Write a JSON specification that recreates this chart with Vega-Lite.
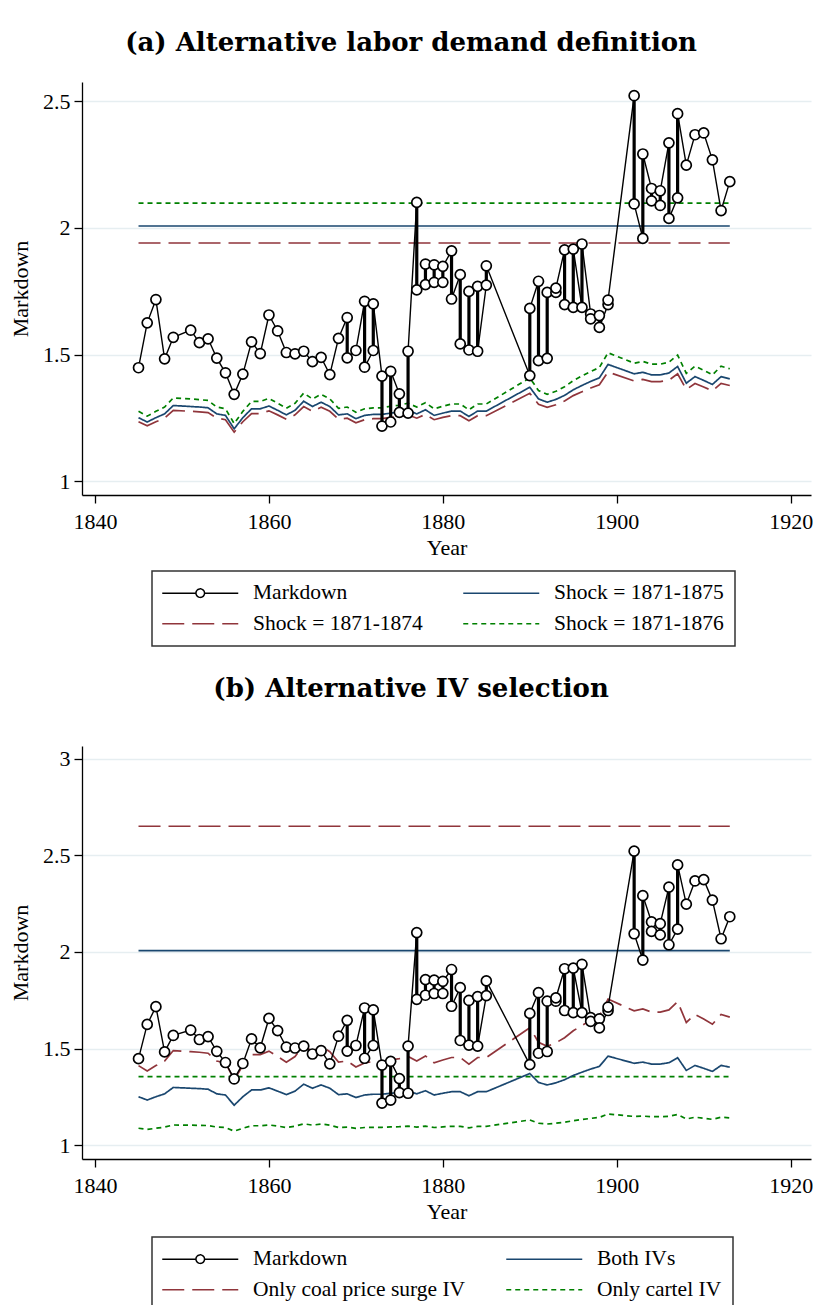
{
 "$schema": "https://vega.github.io/schema/vega-lite/v6.json",
 "autosize": {"type": "pad"},
 "padding": {"left": 9, "top": 30, "right": 0, "bottom": 0},
 "background": "white",
 "spacing": 29,
 "datasets": {
  "md": [
   {"i":1,"year":1845,"v":1.448,"s":"Markdown"},{"i":2,"year":1846,"v":1.625,"s":"Markdown"},{"i":3,"year":1847,"v":1.717,"s":"Markdown"},{"i":4,"year":1848,"v":1.483,"s":"Markdown"},{"i":5,"year":1849,"v":1.568,"s":"Markdown"},
   {"i":6,"year":1851,"v":1.596,"s":"Markdown"},{"i":7,"year":1852,"v":1.547,"s":"Markdown"},{"i":8,"year":1853,"v":1.562,"s":"Markdown"},{"i":9,"year":1854,"v":1.486,"s":"Markdown"},{"i":10,"year":1855,"v":1.428,"s":"Markdown"},
   {"i":11,"year":1856,"v":1.343,"s":"Markdown"},{"i":12,"year":1857,"v":1.423,"s":"Markdown"},{"i":13,"year":1858,"v":1.550,"s":"Markdown"},{"i":14,"year":1859,"v":1.504,"s":"Markdown"},{"i":15,"year":1860,"v":1.656,"s":"Markdown"},
   {"i":16,"year":1861,"v":1.593,"s":"Markdown"},{"i":17,"year":1862,"v":1.508,"s":"Markdown"},{"i":18,"year":1863,"v":1.503,"s":"Markdown"},{"i":19,"year":1864,"v":1.513,"s":"Markdown"},{"i":20,"year":1865,"v":1.472,"s":"Markdown"},
   {"i":21,"year":1866,"v":1.489,"s":"Markdown"},{"i":22,"year":1867,"v":1.421,"s":"Markdown"},{"i":23,"year":1868,"v":1.564,"s":"Markdown"},{"i":24,"year":1869,"v":1.646,"s":"Markdown"},{"i":25,"year":1869,"v":1.487,"s":"Markdown"},
   {"i":26,"year":1870,"v":1.516,"s":"Markdown"},{"i":27,"year":1871,"v":1.710,"s":"Markdown"},{"i":28,"year":1871,"v":1.450,"s":"Markdown"},{"i":29,"year":1872,"v":1.516,"s":"Markdown"},{"i":30,"year":1872,"v":1.700,"s":"Markdown"},
   {"i":31,"year":1873,"v":1.415,"s":"Markdown"},{"i":32,"year":1873,"v":1.218,"s":"Markdown"},{"i":33,"year":1874,"v":1.234,"s":"Markdown"},{"i":34,"year":1874,"v":1.434,"s":"Markdown"},{"i":35,"year":1875,"v":1.345,"s":"Markdown"},
   {"i":36,"year":1875,"v":1.272,"s":"Markdown"},{"i":37,"year":1876,"v":1.269,"s":"Markdown"},{"i":38,"year":1876,"v":1.513,"s":"Markdown"},{"i":39,"year":1877,"v":2.100,"s":"Markdown"},{"i":40,"year":1877,"v":1.755,"s":"Markdown"},
   {"i":41,"year":1878,"v":1.776,"s":"Markdown"},{"i":42,"year":1878,"v":1.857,"s":"Markdown"},{"i":43,"year":1879,"v":1.854,"s":"Markdown"},{"i":44,"year":1879,"v":1.785,"s":"Markdown"},{"i":45,"year":1880,"v":1.785,"s":"Markdown"},
   {"i":46,"year":1880,"v":1.848,"s":"Markdown"},{"i":47,"year":1881,"v":1.909,"s":"Markdown"},{"i":48,"year":1881,"v":1.719,"s":"Markdown"},{"i":49,"year":1882,"v":1.815,"s":"Markdown"},{"i":50,"year":1882,"v":1.542,"s":"Markdown"},
   {"i":51,"year":1883,"v":1.518,"s":"Markdown"},{"i":52,"year":1883,"v":1.749,"s":"Markdown"},{"i":53,"year":1884,"v":1.769,"s":"Markdown"},{"i":54,"year":1884,"v":1.513,"s":"Markdown"},{"i":55,"year":1885,"v":1.774,"s":"Markdown"},
   {"i":56,"year":1885,"v":1.850,"s":"Markdown"},{"i":57,"year":1890,"v":1.417,"s":"Markdown"},{"i":58,"year":1890,"v":1.682,"s":"Markdown"},{"i":59,"year":1891,"v":1.789,"s":"Markdown"},{"i":60,"year":1891,"v":1.476,"s":"Markdown"},
   {"i":61,"year":1892,"v":1.485,"s":"Markdown"},{"i":62,"year":1892,"v":1.745,"s":"Markdown"},{"i":63,"year":1893,"v":1.745,"s":"Markdown"},{"i":64,"year":1893,"v":1.762,"s":"Markdown"},{"i":65,"year":1894,"v":1.913,"s":"Markdown"},
   {"i":66,"year":1894,"v":1.697,"s":"Markdown"},{"i":67,"year":1895,"v":1.686,"s":"Markdown"},{"i":68,"year":1895,"v":1.916,"s":"Markdown"},{"i":69,"year":1896,"v":1.686,"s":"Markdown"},{"i":70,"year":1896,"v":1.936,"s":"Markdown"},
   {"i":71,"year":1897,"v":1.660,"s":"Markdown"},{"i":72,"year":1897,"v":1.641,"s":"Markdown"},{"i":73,"year":1898,"v":1.654,"s":"Markdown"},{"i":74,"year":1898,"v":1.607,"s":"Markdown"},{"i":75,"year":1899,"v":1.697,"s":"Markdown"},
   {"i":76,"year":1899,"v":1.715,"s":"Markdown"},{"i":77,"year":1902,"v":2.521,"s":"Markdown"},{"i":78,"year":1902,"v":2.094,"s":"Markdown"},{"i":79,"year":1903,"v":1.958,"s":"Markdown"},{"i":80,"year":1903,"v":2.291,"s":"Markdown"},
   {"i":81,"year":1904,"v":2.155,"s":"Markdown"},{"i":82,"year":1904,"v":2.106,"s":"Markdown"},{"i":83,"year":1905,"v":2.088,"s":"Markdown"},{"i":84,"year":1905,"v":2.146,"s":"Markdown"},{"i":85,"year":1906,"v":2.335,"s":"Markdown"},
   {"i":86,"year":1906,"v":2.037,"s":"Markdown"},{"i":87,"year":1907,"v":2.118,"s":"Markdown"},{"i":88,"year":1907,"v":2.450,"s":"Markdown"},{"i":89,"year":1908,"v":2.247,"s":"Markdown"},{"i":90,"year":1909,"v":2.367,"s":"Markdown"},
   {"i":91,"year":1910,"v":2.374,"s":"Markdown"},{"i":92,"year":1911,"v":2.268,"s":"Markdown"},{"i":93,"year":1912,"v":2.068,"s":"Markdown"},{"i":94,"year":1913,"v":2.182,"s":"Markdown"}
  ],
  "la": [
   {"s":"Shock = 1871-1875","p":"h","year":1845,"v":2.007},{"s":"Shock = 1871-1875","p":"h","year":1913,"v":2.007},
   {"s":"Shock = 1871-1874","p":"h","year":1845,"v":1.940},{"s":"Shock = 1871-1874","p":"h","year":1913,"v":1.940},
   {"s":"Shock = 1871-1876","p":"h","year":1845,"v":2.097},{"s":"Shock = 1871-1876","p":"h","year":1913,"v":2.097},
   {"s":"Shock = 1871-1875","p":"t","year":1845,"v":1.251},{"s":"Shock = 1871-1875","p":"t","year":1846,"v":1.234},{"s":"Shock = 1871-1875","p":"t","year":1847,"v":1.251},{"s":"Shock = 1871-1875","p":"t","year":1848,"v":1.266},{"s":"Shock = 1871-1875","p":"t","year":1849,"v":1.299},
   {"s":"Shock = 1871-1875","p":"t","year":1851,"v":1.295},{"s":"Shock = 1871-1875","p":"t","year":1852,"v":1.293},{"s":"Shock = 1871-1875","p":"t","year":1853,"v":1.290},{"s":"Shock = 1871-1875","p":"t","year":1854,"v":1.266},{"s":"Shock = 1871-1875","p":"t","year":1855,"v":1.260},
   {"s":"Shock = 1871-1875","p":"t","year":1856,"v":1.207},{"s":"Shock = 1871-1875","p":"t","year":1857,"v":1.251},{"s":"Shock = 1871-1875","p":"t","year":1858,"v":1.286},{"s":"Shock = 1871-1875","p":"t","year":1859,"v":1.286},{"s":"Shock = 1871-1875","p":"t","year":1860,"v":1.297},
   {"s":"Shock = 1871-1875","p":"t","year":1861,"v":1.280},{"s":"Shock = 1871-1875","p":"t","year":1862,"v":1.262},{"s":"Shock = 1871-1875","p":"t","year":1863,"v":1.280},{"s":"Shock = 1871-1875","p":"t","year":1864,"v":1.316},{"s":"Shock = 1871-1875","p":"t","year":1865,"v":1.295},
   {"s":"Shock = 1871-1875","p":"t","year":1866,"v":1.312},{"s":"Shock = 1871-1875","p":"t","year":1867,"v":1.295},{"s":"Shock = 1871-1875","p":"t","year":1868,"v":1.262},{"s":"Shock = 1871-1875","p":"t","year":1869,"v":1.266},{"s":"Shock = 1871-1875","p":"t","year":1870,"v":1.247},
   {"s":"Shock = 1871-1875","p":"t","year":1871,"v":1.260},{"s":"Shock = 1871-1875","p":"t","year":1872,"v":1.264},{"s":"Shock = 1871-1875","p":"t","year":1873,"v":1.264},{"s":"Shock = 1871-1875","p":"t","year":1874,"v":1.269},{"s":"Shock = 1871-1875","p":"t","year":1875,"v":1.273},
   {"s":"Shock = 1871-1875","p":"t","year":1876,"v":1.280},{"s":"Shock = 1871-1875","p":"t","year":1877,"v":1.266},{"s":"Shock = 1871-1875","p":"t","year":1878,"v":1.282},{"s":"Shock = 1871-1875","p":"t","year":1879,"v":1.260},{"s":"Shock = 1871-1875","p":"t","year":1880,"v":1.269},
   {"s":"Shock = 1871-1875","p":"t","year":1881,"v":1.277},{"s":"Shock = 1871-1875","p":"t","year":1882,"v":1.277},{"s":"Shock = 1871-1875","p":"t","year":1883,"v":1.256},{"s":"Shock = 1871-1875","p":"t","year":1884,"v":1.277},{"s":"Shock = 1871-1875","p":"t","year":1885,"v":1.277},
   {"s":"Shock = 1871-1875","p":"t","year":1890,"v":1.371},{"s":"Shock = 1871-1875","p":"t","year":1891,"v":1.325},{"s":"Shock = 1871-1875","p":"t","year":1892,"v":1.312},{"s":"Shock = 1871-1875","p":"t","year":1893,"v":1.323},{"s":"Shock = 1871-1875","p":"t","year":1894,"v":1.339},
   {"s":"Shock = 1871-1875","p":"t","year":1895,"v":1.361},{"s":"Shock = 1871-1875","p":"t","year":1896,"v":1.378},{"s":"Shock = 1871-1875","p":"t","year":1897,"v":1.394},{"s":"Shock = 1871-1875","p":"t","year":1898,"v":1.408},{"s":"Shock = 1871-1875","p":"t","year":1899,"v":1.461},
   {"s":"Shock = 1871-1875","p":"t","year":1902,"v":1.424},{"s":"Shock = 1871-1875","p":"t","year":1903,"v":1.430},{"s":"Shock = 1871-1875","p":"t","year":1904,"v":1.420},{"s":"Shock = 1871-1875","p":"t","year":1905,"v":1.420},{"s":"Shock = 1871-1875","p":"t","year":1906,"v":1.427},
   {"s":"Shock = 1871-1875","p":"t","year":1907,"v":1.453},{"s":"Shock = 1871-1875","p":"t","year":1908,"v":1.387},{"s":"Shock = 1871-1875","p":"t","year":1909,"v":1.413},{"s":"Shock = 1871-1875","p":"t","year":1910,"v":1.398},{"s":"Shock = 1871-1875","p":"t","year":1911,"v":1.382},
   {"s":"Shock = 1871-1875","p":"t","year":1912,"v":1.413},{"s":"Shock = 1871-1875","p":"t","year":1913,"v":1.404},
   {"s":"Shock = 1871-1874","p":"t","year":1845,"v":1.235},{"s":"Shock = 1871-1874","p":"t","year":1846,"v":1.219},{"s":"Shock = 1871-1874","p":"t","year":1847,"v":1.235},{"s":"Shock = 1871-1874","p":"t","year":1848,"v":1.249},{"s":"Shock = 1871-1874","p":"t","year":1849,"v":1.280},
   {"s":"Shock = 1871-1874","p":"t","year":1851,"v":1.276},{"s":"Shock = 1871-1874","p":"t","year":1852,"v":1.274},{"s":"Shock = 1871-1874","p":"t","year":1853,"v":1.271},{"s":"Shock = 1871-1874","p":"t","year":1854,"v":1.249},{"s":"Shock = 1871-1874","p":"t","year":1855,"v":1.243},
   {"s":"Shock = 1871-1874","p":"t","year":1856,"v":1.194},{"s":"Shock = 1871-1874","p":"t","year":1857,"v":1.235},{"s":"Shock = 1871-1874","p":"t","year":1858,"v":1.267},{"s":"Shock = 1871-1874","p":"t","year":1859,"v":1.267},{"s":"Shock = 1871-1874","p":"t","year":1860,"v":1.278},
   {"s":"Shock = 1871-1874","p":"t","year":1861,"v":1.262},{"s":"Shock = 1871-1874","p":"t","year":1862,"v":1.245},{"s":"Shock = 1871-1874","p":"t","year":1863,"v":1.262},{"s":"Shock = 1871-1874","p":"t","year":1864,"v":1.295},{"s":"Shock = 1871-1874","p":"t","year":1865,"v":1.276},
   {"s":"Shock = 1871-1874","p":"t","year":1866,"v":1.292},{"s":"Shock = 1871-1874","p":"t","year":1867,"v":1.276},{"s":"Shock = 1871-1874","p":"t","year":1868,"v":1.245},{"s":"Shock = 1871-1874","p":"t","year":1869,"v":1.249},{"s":"Shock = 1871-1874","p":"t","year":1870,"v":1.231},
   {"s":"Shock = 1871-1874","p":"t","year":1871,"v":1.243},{"s":"Shock = 1871-1874","p":"t","year":1872,"v":1.247},{"s":"Shock = 1871-1874","p":"t","year":1873,"v":1.247},{"s":"Shock = 1871-1874","p":"t","year":1874,"v":1.252},{"s":"Shock = 1871-1874","p":"t","year":1875,"v":1.255},
   {"s":"Shock = 1871-1874","p":"t","year":1876,"v":1.262},{"s":"Shock = 1871-1874","p":"t","year":1877,"v":1.249},{"s":"Shock = 1871-1874","p":"t","year":1878,"v":1.264},{"s":"Shock = 1871-1874","p":"t","year":1879,"v":1.243},{"s":"Shock = 1871-1874","p":"t","year":1880,"v":1.252},
   {"s":"Shock = 1871-1874","p":"t","year":1881,"v":1.259},{"s":"Shock = 1871-1874","p":"t","year":1882,"v":1.259},{"s":"Shock = 1871-1874","p":"t","year":1883,"v":1.239},{"s":"Shock = 1871-1874","p":"t","year":1884,"v":1.259},{"s":"Shock = 1871-1874","p":"t","year":1885,"v":1.259},
   {"s":"Shock = 1871-1874","p":"t","year":1890,"v":1.347},{"s":"Shock = 1871-1874","p":"t","year":1891,"v":1.304},{"s":"Shock = 1871-1874","p":"t","year":1892,"v":1.292},{"s":"Shock = 1871-1874","p":"t","year":1893,"v":1.302},{"s":"Shock = 1871-1874","p":"t","year":1894,"v":1.317},
   {"s":"Shock = 1871-1874","p":"t","year":1895,"v":1.338},{"s":"Shock = 1871-1874","p":"t","year":1896,"v":1.353},{"s":"Shock = 1871-1874","p":"t","year":1897,"v":1.368},{"s":"Shock = 1871-1874","p":"t","year":1898,"v":1.381},{"s":"Shock = 1871-1874","p":"t","year":1899,"v":1.431},
   {"s":"Shock = 1871-1874","p":"t","year":1902,"v":1.396},{"s":"Shock = 1871-1874","p":"t","year":1903,"v":1.402},{"s":"Shock = 1871-1874","p":"t","year":1904,"v":1.393},{"s":"Shock = 1871-1874","p":"t","year":1905,"v":1.393},{"s":"Shock = 1871-1874","p":"t","year":1906,"v":1.399},
   {"s":"Shock = 1871-1874","p":"t","year":1907,"v":1.424},{"s":"Shock = 1871-1874","p":"t","year":1908,"v":1.362},{"s":"Shock = 1871-1874","p":"t","year":1909,"v":1.386},{"s":"Shock = 1871-1874","p":"t","year":1910,"v":1.372},{"s":"Shock = 1871-1874","p":"t","year":1911,"v":1.357},
   {"s":"Shock = 1871-1874","p":"t","year":1912,"v":1.386},{"s":"Shock = 1871-1874","p":"t","year":1913,"v":1.378},
   {"s":"Shock = 1871-1876","p":"t","year":1845,"v":1.276},{"s":"Shock = 1871-1876","p":"t","year":1846,"v":1.257},{"s":"Shock = 1871-1876","p":"t","year":1847,"v":1.276},{"s":"Shock = 1871-1876","p":"t","year":1848,"v":1.293},{"s":"Shock = 1871-1876","p":"t","year":1849,"v":1.329},
   {"s":"Shock = 1871-1876","p":"t","year":1851,"v":1.325},{"s":"Shock = 1871-1876","p":"t","year":1852,"v":1.322},{"s":"Shock = 1871-1876","p":"t","year":1853,"v":1.319},{"s":"Shock = 1871-1876","p":"t","year":1854,"v":1.293},{"s":"Shock = 1871-1876","p":"t","year":1855,"v":1.286},
   {"s":"Shock = 1871-1876","p":"t","year":1856,"v":1.228},{"s":"Shock = 1871-1876","p":"t","year":1857,"v":1.276},{"s":"Shock = 1871-1876","p":"t","year":1858,"v":1.315},{"s":"Shock = 1871-1876","p":"t","year":1859,"v":1.315},{"s":"Shock = 1871-1876","p":"t","year":1860,"v":1.327},
   {"s":"Shock = 1871-1876","p":"t","year":1861,"v":1.308},{"s":"Shock = 1871-1876","p":"t","year":1862,"v":1.288},{"s":"Shock = 1871-1876","p":"t","year":1863,"v":1.308},{"s":"Shock = 1871-1876","p":"t","year":1864,"v":1.348},{"s":"Shock = 1871-1876","p":"t","year":1865,"v":1.325},
   {"s":"Shock = 1871-1876","p":"t","year":1866,"v":1.343},{"s":"Shock = 1871-1876","p":"t","year":1867,"v":1.325},{"s":"Shock = 1871-1876","p":"t","year":1868,"v":1.288},{"s":"Shock = 1871-1876","p":"t","year":1869,"v":1.293},{"s":"Shock = 1871-1876","p":"t","year":1870,"v":1.272},
   {"s":"Shock = 1871-1876","p":"t","year":1871,"v":1.286},{"s":"Shock = 1871-1876","p":"t","year":1872,"v":1.290},{"s":"Shock = 1871-1876","p":"t","year":1873,"v":1.290},{"s":"Shock = 1871-1876","p":"t","year":1874,"v":1.296},{"s":"Shock = 1871-1876","p":"t","year":1875,"v":1.300},
   {"s":"Shock = 1871-1876","p":"t","year":1876,"v":1.308},{"s":"Shock = 1871-1876","p":"t","year":1877,"v":1.293},{"s":"Shock = 1871-1876","p":"t","year":1878,"v":1.310},{"s":"Shock = 1871-1876","p":"t","year":1879,"v":1.286},{"s":"Shock = 1871-1876","p":"t","year":1880,"v":1.296},
   {"s":"Shock = 1871-1876","p":"t","year":1881,"v":1.305},{"s":"Shock = 1871-1876","p":"t","year":1882,"v":1.305},{"s":"Shock = 1871-1876","p":"t","year":1883,"v":1.282},{"s":"Shock = 1871-1876","p":"t","year":1884,"v":1.305},{"s":"Shock = 1871-1876","p":"t","year":1885,"v":1.305},
   {"s":"Shock = 1871-1876","p":"t","year":1890,"v":1.408},{"s":"Shock = 1871-1876","p":"t","year":1891,"v":1.358},{"s":"Shock = 1871-1876","p":"t","year":1892,"v":1.343},{"s":"Shock = 1871-1876","p":"t","year":1893,"v":1.355},{"s":"Shock = 1871-1876","p":"t","year":1894,"v":1.373},
   {"s":"Shock = 1871-1876","p":"t","year":1895,"v":1.397},{"s":"Shock = 1871-1876","p":"t","year":1896,"v":1.416},{"s":"Shock = 1871-1876","p":"t","year":1897,"v":1.433},{"s":"Shock = 1871-1876","p":"t","year":1898,"v":1.449},{"s":"Shock = 1871-1876","p":"t","year":1899,"v":1.507},
   {"s":"Shock = 1871-1876","p":"t","year":1902,"v":1.466},{"s":"Shock = 1871-1876","p":"t","year":1903,"v":1.473},{"s":"Shock = 1871-1876","p":"t","year":1904,"v":1.462},{"s":"Shock = 1871-1876","p":"t","year":1905,"v":1.462},{"s":"Shock = 1871-1876","p":"t","year":1906,"v":1.470},
   {"s":"Shock = 1871-1876","p":"t","year":1907,"v":1.498},{"s":"Shock = 1871-1876","p":"t","year":1908,"v":1.426},{"s":"Shock = 1871-1876","p":"t","year":1909,"v":1.454},{"s":"Shock = 1871-1876","p":"t","year":1910,"v":1.438},{"s":"Shock = 1871-1876","p":"t","year":1911,"v":1.420},
   {"s":"Shock = 1871-1876","p":"t","year":1912,"v":1.454},{"s":"Shock = 1871-1876","p":"t","year":1913,"v":1.444}
  ],
  "lb": [
   {"s":"Both IVs","p":"h","year":1845,"v":2.007},{"s":"Both IVs","p":"h","year":1913,"v":2.007},
   {"s":"Only coal price surge IV","p":"h","year":1845,"v":2.650},{"s":"Only coal price surge IV","p":"h","year":1913,"v":2.650},
   {"s":"Only cartel IV","p":"h","year":1845,"v":1.355},{"s":"Only cartel IV","p":"h","year":1913,"v":1.355},
   {"s":"Both IVs","p":"t","year":1845,"v":1.251},{"s":"Both IVs","p":"t","year":1846,"v":1.234},{"s":"Both IVs","p":"t","year":1847,"v":1.251},{"s":"Both IVs","p":"t","year":1848,"v":1.266},{"s":"Both IVs","p":"t","year":1849,"v":1.299},
   {"s":"Both IVs","p":"t","year":1851,"v":1.295},{"s":"Both IVs","p":"t","year":1852,"v":1.293},{"s":"Both IVs","p":"t","year":1853,"v":1.290},{"s":"Both IVs","p":"t","year":1854,"v":1.266},{"s":"Both IVs","p":"t","year":1855,"v":1.260},
   {"s":"Both IVs","p":"t","year":1856,"v":1.207},{"s":"Both IVs","p":"t","year":1857,"v":1.251},{"s":"Both IVs","p":"t","year":1858,"v":1.286},{"s":"Both IVs","p":"t","year":1859,"v":1.286},{"s":"Both IVs","p":"t","year":1860,"v":1.297},
   {"s":"Both IVs","p":"t","year":1861,"v":1.280},{"s":"Both IVs","p":"t","year":1862,"v":1.262},{"s":"Both IVs","p":"t","year":1863,"v":1.280},{"s":"Both IVs","p":"t","year":1864,"v":1.316},{"s":"Both IVs","p":"t","year":1865,"v":1.295},
   {"s":"Both IVs","p":"t","year":1866,"v":1.312},{"s":"Both IVs","p":"t","year":1867,"v":1.295},{"s":"Both IVs","p":"t","year":1868,"v":1.262},{"s":"Both IVs","p":"t","year":1869,"v":1.266},{"s":"Both IVs","p":"t","year":1870,"v":1.247},
   {"s":"Both IVs","p":"t","year":1871,"v":1.260},{"s":"Both IVs","p":"t","year":1872,"v":1.264},{"s":"Both IVs","p":"t","year":1873,"v":1.264},{"s":"Both IVs","p":"t","year":1874,"v":1.269},{"s":"Both IVs","p":"t","year":1875,"v":1.273},
   {"s":"Both IVs","p":"t","year":1876,"v":1.280},{"s":"Both IVs","p":"t","year":1877,"v":1.266},{"s":"Both IVs","p":"t","year":1878,"v":1.282},{"s":"Both IVs","p":"t","year":1879,"v":1.260},{"s":"Both IVs","p":"t","year":1880,"v":1.269},
   {"s":"Both IVs","p":"t","year":1881,"v":1.277},{"s":"Both IVs","p":"t","year":1882,"v":1.277},{"s":"Both IVs","p":"t","year":1883,"v":1.256},{"s":"Both IVs","p":"t","year":1884,"v":1.277},{"s":"Both IVs","p":"t","year":1885,"v":1.277},
   {"s":"Both IVs","p":"t","year":1890,"v":1.371},{"s":"Both IVs","p":"t","year":1891,"v":1.325},{"s":"Both IVs","p":"t","year":1892,"v":1.312},{"s":"Both IVs","p":"t","year":1893,"v":1.323},{"s":"Both IVs","p":"t","year":1894,"v":1.339},
   {"s":"Both IVs","p":"t","year":1895,"v":1.361},{"s":"Both IVs","p":"t","year":1896,"v":1.378},{"s":"Both IVs","p":"t","year":1897,"v":1.394},{"s":"Both IVs","p":"t","year":1898,"v":1.408},{"s":"Both IVs","p":"t","year":1899,"v":1.461},
   {"s":"Both IVs","p":"t","year":1902,"v":1.424},{"s":"Both IVs","p":"t","year":1903,"v":1.430},{"s":"Both IVs","p":"t","year":1904,"v":1.420},{"s":"Both IVs","p":"t","year":1905,"v":1.420},{"s":"Both IVs","p":"t","year":1906,"v":1.427},
   {"s":"Both IVs","p":"t","year":1907,"v":1.453},{"s":"Both IVs","p":"t","year":1908,"v":1.387},{"s":"Both IVs","p":"t","year":1909,"v":1.413},{"s":"Both IVs","p":"t","year":1910,"v":1.398},{"s":"Both IVs","p":"t","year":1911,"v":1.382},
   {"s":"Both IVs","p":"t","year":1912,"v":1.413},{"s":"Both IVs","p":"t","year":1913,"v":1.404},
   {"s":"Only coal price surge IV","p":"t","year":1845,"v":1.412},{"s":"Only coal price surge IV","p":"t","year":1846,"v":1.384},{"s":"Only coal price surge IV","p":"t","year":1847,"v":1.412},{"s":"Only coal price surge IV","p":"t","year":1848,"v":1.436},{"s":"Only coal price surge IV","p":"t","year":1849,"v":1.490},
   {"s":"Only coal price surge IV","p":"t","year":1851,"v":1.484},{"s":"Only coal price surge IV","p":"t","year":1852,"v":1.481},{"s":"Only coal price surge IV","p":"t","year":1853,"v":1.476},{"s":"Only coal price surge IV","p":"t","year":1854,"v":1.436},{"s":"Only coal price surge IV","p":"t","year":1855,"v":1.426},
   {"s":"Only coal price surge IV","p":"t","year":1856,"v":1.339},{"s":"Only coal price surge IV","p":"t","year":1857,"v":1.412},{"s":"Only coal price surge IV","p":"t","year":1858,"v":1.469},{"s":"Only coal price surge IV","p":"t","year":1859,"v":1.469},{"s":"Only coal price surge IV","p":"t","year":1860,"v":1.487},
   {"s":"Only coal price surge IV","p":"t","year":1861,"v":1.459},{"s":"Only coal price surge IV","p":"t","year":1862,"v":1.430},{"s":"Only coal price surge IV","p":"t","year":1863,"v":1.459},{"s":"Only coal price surge IV","p":"t","year":1864,"v":1.518},{"s":"Only coal price surge IV","p":"t","year":1865,"v":1.484},
   {"s":"Only coal price surge IV","p":"t","year":1866,"v":1.512},{"s":"Only coal price surge IV","p":"t","year":1867,"v":1.484},{"s":"Only coal price surge IV","p":"t","year":1868,"v":1.430},{"s":"Only coal price surge IV","p":"t","year":1869,"v":1.436},{"s":"Only coal price surge IV","p":"t","year":1870,"v":1.405},
   {"s":"Only coal price surge IV","p":"t","year":1871,"v":1.426},{"s":"Only coal price surge IV","p":"t","year":1872,"v":1.433},{"s":"Only coal price surge IV","p":"t","year":1873,"v":1.433},{"s":"Only coal price surge IV","p":"t","year":1874,"v":1.441},{"s":"Only coal price surge IV","p":"t","year":1875,"v":1.448},
   {"s":"Only coal price surge IV","p":"t","year":1876,"v":1.459},{"s":"Only coal price surge IV","p":"t","year":1877,"v":1.436},{"s":"Only coal price surge IV","p":"t","year":1878,"v":1.462},{"s":"Only coal price surge IV","p":"t","year":1879,"v":1.426},{"s":"Only coal price surge IV","p":"t","year":1880,"v":1.441},
   {"s":"Only coal price surge IV","p":"t","year":1881,"v":1.454},{"s":"Only coal price surge IV","p":"t","year":1882,"v":1.454},{"s":"Only coal price surge IV","p":"t","year":1883,"v":1.420},{"s":"Only coal price surge IV","p":"t","year":1884,"v":1.454},{"s":"Only coal price surge IV","p":"t","year":1885,"v":1.454},
   {"s":"Only coal price surge IV","p":"t","year":1890,"v":1.608},{"s":"Only coal price surge IV","p":"t","year":1891,"v":1.533},{"s":"Only coal price surge IV","p":"t","year":1892,"v":1.512},{"s":"Only coal price surge IV","p":"t","year":1893,"v":1.530},{"s":"Only coal price surge IV","p":"t","year":1894,"v":1.556},
   {"s":"Only coal price surge IV","p":"t","year":1895,"v":1.592},{"s":"Only coal price surge IV","p":"t","year":1896,"v":1.620},{"s":"Only coal price surge IV","p":"t","year":1897,"v":1.646},{"s":"Only coal price surge IV","p":"t","year":1898,"v":1.669},{"s":"Only coal price surge IV","p":"t","year":1899,"v":1.756},
   {"s":"Only coal price surge IV","p":"t","year":1902,"v":1.695},{"s":"Only coal price surge IV","p":"t","year":1903,"v":1.705},{"s":"Only coal price surge IV","p":"t","year":1904,"v":1.689},{"s":"Only coal price surge IV","p":"t","year":1905,"v":1.689},{"s":"Only coal price surge IV","p":"t","year":1906,"v":1.700},
   {"s":"Only coal price surge IV","p":"t","year":1907,"v":1.743},{"s":"Only coal price surge IV","p":"t","year":1908,"v":1.635},{"s":"Only coal price surge IV","p":"t","year":1909,"v":1.677},{"s":"Only coal price surge IV","p":"t","year":1910,"v":1.653},{"s":"Only coal price surge IV","p":"t","year":1911,"v":1.626},
   {"s":"Only coal price surge IV","p":"t","year":1912,"v":1.677},{"s":"Only coal price surge IV","p":"t","year":1913,"v":1.663},
   {"s":"Only cartel IV","p":"t","year":1845,"v":1.088},{"s":"Only cartel IV","p":"t","year":1846,"v":1.082},{"s":"Only cartel IV","p":"t","year":1847,"v":1.088},{"s":"Only cartel IV","p":"t","year":1848,"v":1.094},{"s":"Only cartel IV","p":"t","year":1849,"v":1.105},
   {"s":"Only cartel IV","p":"t","year":1851,"v":1.104},{"s":"Only cartel IV","p":"t","year":1852,"v":1.103},{"s":"Only cartel IV","p":"t","year":1853,"v":1.102},{"s":"Only cartel IV","p":"t","year":1854,"v":1.094},{"s":"Only cartel IV","p":"t","year":1855,"v":1.092},
   {"s":"Only cartel IV","p":"t","year":1856,"v":1.073},{"s":"Only cartel IV","p":"t","year":1857,"v":1.088},{"s":"Only cartel IV","p":"t","year":1858,"v":1.101},{"s":"Only cartel IV","p":"t","year":1859,"v":1.101},{"s":"Only cartel IV","p":"t","year":1860,"v":1.105},
   {"s":"Only cartel IV","p":"t","year":1861,"v":1.099},{"s":"Only cartel IV","p":"t","year":1862,"v":1.092},{"s":"Only cartel IV","p":"t","year":1863,"v":1.099},{"s":"Only cartel IV","p":"t","year":1864,"v":1.111},{"s":"Only cartel IV","p":"t","year":1865,"v":1.104},
   {"s":"Only cartel IV","p":"t","year":1866,"v":1.110},{"s":"Only cartel IV","p":"t","year":1867,"v":1.104},{"s":"Only cartel IV","p":"t","year":1868,"v":1.092},{"s":"Only cartel IV","p":"t","year":1869,"v":1.094},{"s":"Only cartel IV","p":"t","year":1870,"v":1.087},
   {"s":"Only cartel IV","p":"t","year":1871,"v":1.092},{"s":"Only cartel IV","p":"t","year":1872,"v":1.093},{"s":"Only cartel IV","p":"t","year":1873,"v":1.093},{"s":"Only cartel IV","p":"t","year":1874,"v":1.095},{"s":"Only cartel IV","p":"t","year":1875,"v":1.096},
   {"s":"Only cartel IV","p":"t","year":1876,"v":1.099},{"s":"Only cartel IV","p":"t","year":1877,"v":1.094},{"s":"Only cartel IV","p":"t","year":1878,"v":1.099},{"s":"Only cartel IV","p":"t","year":1879,"v":1.092},{"s":"Only cartel IV","p":"t","year":1880,"v":1.095},
   {"s":"Only cartel IV","p":"t","year":1881,"v":1.098},{"s":"Only cartel IV","p":"t","year":1882,"v":1.098},{"s":"Only cartel IV","p":"t","year":1883,"v":1.090},{"s":"Only cartel IV","p":"t","year":1884,"v":1.098},{"s":"Only cartel IV","p":"t","year":1885,"v":1.098},
   {"s":"Only cartel IV","p":"t","year":1890,"v":1.131},{"s":"Only cartel IV","p":"t","year":1891,"v":1.114},{"s":"Only cartel IV","p":"t","year":1892,"v":1.110},{"s":"Only cartel IV","p":"t","year":1893,"v":1.114},{"s":"Only cartel IV","p":"t","year":1894,"v":1.119},
   {"s":"Only cartel IV","p":"t","year":1895,"v":1.127},{"s":"Only cartel IV","p":"t","year":1896,"v":1.133},{"s":"Only cartel IV","p":"t","year":1897,"v":1.139},{"s":"Only cartel IV","p":"t","year":1898,"v":1.144},{"s":"Only cartel IV","p":"t","year":1899,"v":1.162},
   {"s":"Only cartel IV","p":"t","year":1902,"v":1.149},{"s":"Only cartel IV","p":"t","year":1903,"v":1.151},{"s":"Only cartel IV","p":"t","year":1904,"v":1.148},{"s":"Only cartel IV","p":"t","year":1905,"v":1.148},{"s":"Only cartel IV","p":"t","year":1906,"v":1.150},
   {"s":"Only cartel IV","p":"t","year":1907,"v":1.159},{"s":"Only cartel IV","p":"t","year":1908,"v":1.136},{"s":"Only cartel IV","p":"t","year":1909,"v":1.145},{"s":"Only cartel IV","p":"t","year":1910,"v":1.140},{"s":"Only cartel IV","p":"t","year":1911,"v":1.134},
   {"s":"Only cartel IV","p":"t","year":1912,"v":1.145},{"s":"Only cartel IV","p":"t","year":1913,"v":1.142}
  ]
 },
 "vconcat": [
  {
   "title": {"text": "(a) Alternative labor demand definition", "offset": 26},
   "width": 729,
   "height": 413,
   "layer": [
    {
     "data": {"name": "la"},
     "mark": {"type": "line", "strokeWidth": 1.7},
     "encoding": {
      "x": {"field": "year", "type": "quantitative", "title": "Year", "scale": {"domain": [1838.5, 1922.34], "nice": false, "zero": false}, "axis": {"values": [1840, 1860, 1880, 1900, 1920], "format": "d"}},
      "y": {"field": "v", "type": "quantitative", "title": "Markdown", "scale": {"domain": [0.946, 2.575], "nice": false, "zero": false}, "axis": {"values": [1, 1.5, 2, 2.5], "format": "~g"}},
      "color": {"field": "s", "type": "nominal", "scale": {"domain": ["Markdown", "Shock = 1871-1874", "Shock = 1871-1875", "Shock = 1871-1876"], "range": ["#000000", "#90353b", "#1a476f", "#008000"]}, "legend": {"title": null, "orient": "none", "legendX": 70, "legendY": 489, "encode": {"symbols": {"update": {"fill": {"value": "white"}, "opacity": {"value": 1}, "strokeWidth": {"value": 1.5}}}, "legend": {"update": {"strokeWidth": {"value": 1.5}}}}}},
      "strokeDash": {"field": "s", "type": "nominal", "scale": {"domain": ["Markdown", "Shock = 1871-1874", "Shock = 1871-1875", "Shock = 1871-1876"], "range": [[1, 0], [22, 8], [1, 0], [5, 4]]}, "legend": {"title": null, "orient": "none", "legendX": 70, "legendY": 489, "encode": {"symbols": {"update": {"fill": {"value": "white"}, "opacity": {"value": 1}, "strokeWidth": {"value": 1.5}}}, "legend": {"update": {"strokeWidth": {"value": 1.5}}}}}},
      "detail": {"field": "p", "type": "nominal"}
     }
    },
    {
     "data": {"name": "md"},
     "mark": {"type": "line", "color": "black", "strokeWidth": 1.4},
     "encoding": {
      "x": {"field": "year", "type": "quantitative", "title": "Year"},
      "y": {"field": "v", "type": "quantitative", "title": "Markdown"},
      "order": {"field": "i", "type": "quantitative"}
     }
    },
    {
     "data": {"name": "md"},
     "mark": {"type": "rule", "color": "black", "strokeWidth": 3.2},
     "encoding": {
      "x": {"field": "year", "type": "quantitative", "title": "Year"},
      "y": {"aggregate": "min", "field": "v", "type": "quantitative", "title": "Markdown"},
      "y2": {"aggregate": "max", "field": "v", "title": "Markdown"}
     }
    },
    {
     "data": {"name": "md"},
     "mark": {"type": "point", "shape": "circle", "filled": true, "fill": "white", "stroke": "black", "strokeWidth": 1.7, "size": 100, "opacity": 1},
     "encoding": {
      "x": {"field": "year", "type": "quantitative", "title": "Year"},
      "y": {"field": "v", "type": "quantitative", "title": "Markdown"}
     }
    },
    {
     "data": {"name": "md"},
     "mark": {"type": "point", "opacity": 0},
     "encoding": {
      "x": {"field": "year", "type": "quantitative", "title": "Year"},
      "y": {"field": "v", "type": "quantitative", "title": "Markdown"},
      "shape": {"field": "s", "type": "nominal", "scale": {"domain": ["Markdown", "Shock = 1871-1874", "Shock = 1871-1875", "Shock = 1871-1876"], "range": ["M-4,0L-0.45,0M0.45,0L4,0M0.45,0A0.45,0.45,0,1,1,-0.45,0A0.45,0.45,0,1,1,0.45,0Z", "M-4,0L4,0", "M-4,0L4,0", "M-4,0L4,0"]}, "legend": {"title": null, "orient": "none", "legendX": 70, "legendY": 489, "encode": {"symbols": {"update": {"fill": {"value": "white"}, "opacity": {"value": 1}, "strokeWidth": {"value": 1.5}}}, "legend": {"update": {"strokeWidth": {"value": 1.5}}}}}}
     }
    }
   ]
  },
  {
   "title": {"text": "(b) Alternative IV selection", "offset": 44},
   "width": 729,
   "height": 413,
   "layer": [
    {
     "data": {"name": "lb"},
     "mark": {"type": "line", "strokeWidth": 1.7},
     "encoding": {
      "x": {"field": "year", "type": "quantitative", "title": "Year", "scale": {"domain": [1838.5, 1922.34], "nice": false, "zero": false}, "axis": {"values": [1840, 1860, 1880, 1900, 1920], "format": "d"}},
      "y": {"field": "v", "type": "quantitative", "title": "Markdown", "scale": {"domain": [0.929, 3.065], "nice": false, "zero": false}, "axis": {"values": [1, 1.5, 2, 2.5, 3], "format": "~g"}},
      "color": {"field": "s", "type": "nominal", "scale": {"domain": ["Markdown", "Only coal price surge IV", "Both IVs", "Only cartel IV"], "range": ["#000000", "#90353b", "#1a476f", "#008000"]}, "legend": {"title": null, "orient": "none", "legendX": 70, "legendY": 491, "encode": {"symbols": {"update": {"fill": {"value": "white"}, "opacity": {"value": 1}, "strokeWidth": {"value": 1.5}}}, "legend": {"update": {"strokeWidth": {"value": 1.5}}}}}},
      "strokeDash": {"field": "s", "type": "nominal", "scale": {"domain": ["Markdown", "Only coal price surge IV", "Both IVs", "Only cartel IV"], "range": [[1, 0], [22, 8], [1, 0], [5, 4]]}, "legend": {"title": null, "orient": "none", "legendX": 70, "legendY": 491, "encode": {"symbols": {"update": {"fill": {"value": "white"}, "opacity": {"value": 1}, "strokeWidth": {"value": 1.5}}}, "legend": {"update": {"strokeWidth": {"value": 1.5}}}}}},
      "detail": {"field": "p", "type": "nominal"}
     }
    },
    {
     "data": {"name": "md"},
     "mark": {"type": "line", "color": "black", "strokeWidth": 1.4},
     "encoding": {
      "x": {"field": "year", "type": "quantitative", "title": "Year"},
      "y": {"field": "v", "type": "quantitative", "title": "Markdown"},
      "order": {"field": "i", "type": "quantitative"}
     }
    },
    {
     "data": {"name": "md"},
     "mark": {"type": "rule", "color": "black", "strokeWidth": 3.2},
     "encoding": {
      "x": {"field": "year", "type": "quantitative", "title": "Year"},
      "y": {"aggregate": "min", "field": "v", "type": "quantitative", "title": "Markdown"},
      "y2": {"aggregate": "max", "field": "v", "title": "Markdown"}
     }
    },
    {
     "data": {"name": "md"},
     "mark": {"type": "point", "shape": "circle", "filled": true, "fill": "white", "stroke": "black", "strokeWidth": 1.7, "size": 100, "opacity": 1},
     "encoding": {
      "x": {"field": "year", "type": "quantitative", "title": "Year"},
      "y": {"field": "v", "type": "quantitative", "title": "Markdown"}
     }
    },
    {
     "data": {"name": "md"},
     "mark": {"type": "point", "opacity": 0},
     "encoding": {
      "x": {"field": "year", "type": "quantitative", "title": "Year"},
      "y": {"field": "v", "type": "quantitative", "title": "Markdown"},
      "shape": {"field": "s", "type": "nominal", "scale": {"domain": ["Markdown", "Only coal price surge IV", "Both IVs", "Only cartel IV"], "range": ["M-4,0L-0.45,0M0.45,0L4,0M0.45,0A0.45,0.45,0,1,1,-0.45,0A0.45,0.45,0,1,1,0.45,0Z", "M-4,0L4,0", "M-4,0L4,0", "M-4,0L4,0"]}, "legend": {"title": null, "orient": "none", "legendX": 70, "legendY": 491, "encode": {"symbols": {"update": {"fill": {"value": "white"}, "opacity": {"value": 1}, "strokeWidth": {"value": 1.5}}}, "legend": {"update": {"strokeWidth": {"value": 1.5}}}}}}
     }
    }
   ]
  }
 ],
 "resolve": {"scale": {"color": "independent", "strokeDash": "independent", "shape": "independent", "x": "independent", "y": "independent"}, "legend": {"color": "independent", "strokeDash": "independent", "shape": "independent"}},
 "config": {
  "view": {"stroke": null},
  "title": {"font": "DejaVu Serif", "fontSize": 26, "fontWeight": "bold", "color": "black", "anchor": "middle", "frame": "bounds"},
  "axis": {"labelFont": "Liberation Serif", "labelFontSize": 22, "labelColor": "black", "titleFont": "Liberation Serif", "titleFontSize": 22, "titleFontWeight": "normal", "titleColor": "black", "domainColor": "black", "domainWidth": 1.3, "tickColor": "black", "tickWidth": 1.3, "tickSize": 8, "grid": false},
  "axisY": {"grid": true, "gridColor": "#e6eef1", "gridWidth": 1.5, "labelPadding": 4, "titlePadding": 10, "labelAngle": 0},
  "axisX": {"labelPadding": 8, "titlePadding": 5},
  "legend": {"columns": 2, "columnPadding": 37, "rowPadding": 8, "symbolSize": 361, "symbolOffset": 26.5, "symbolStrokeWidth": 1.5, "symbolOpacity": 1, "labelFont": "Liberation Serif", "labelFontSize": 21.5, "labelColor": "black", "labelOffset": 42, "labelLimit": 400, "strokeColor": "#333333", "padding": 11}
 }
}
